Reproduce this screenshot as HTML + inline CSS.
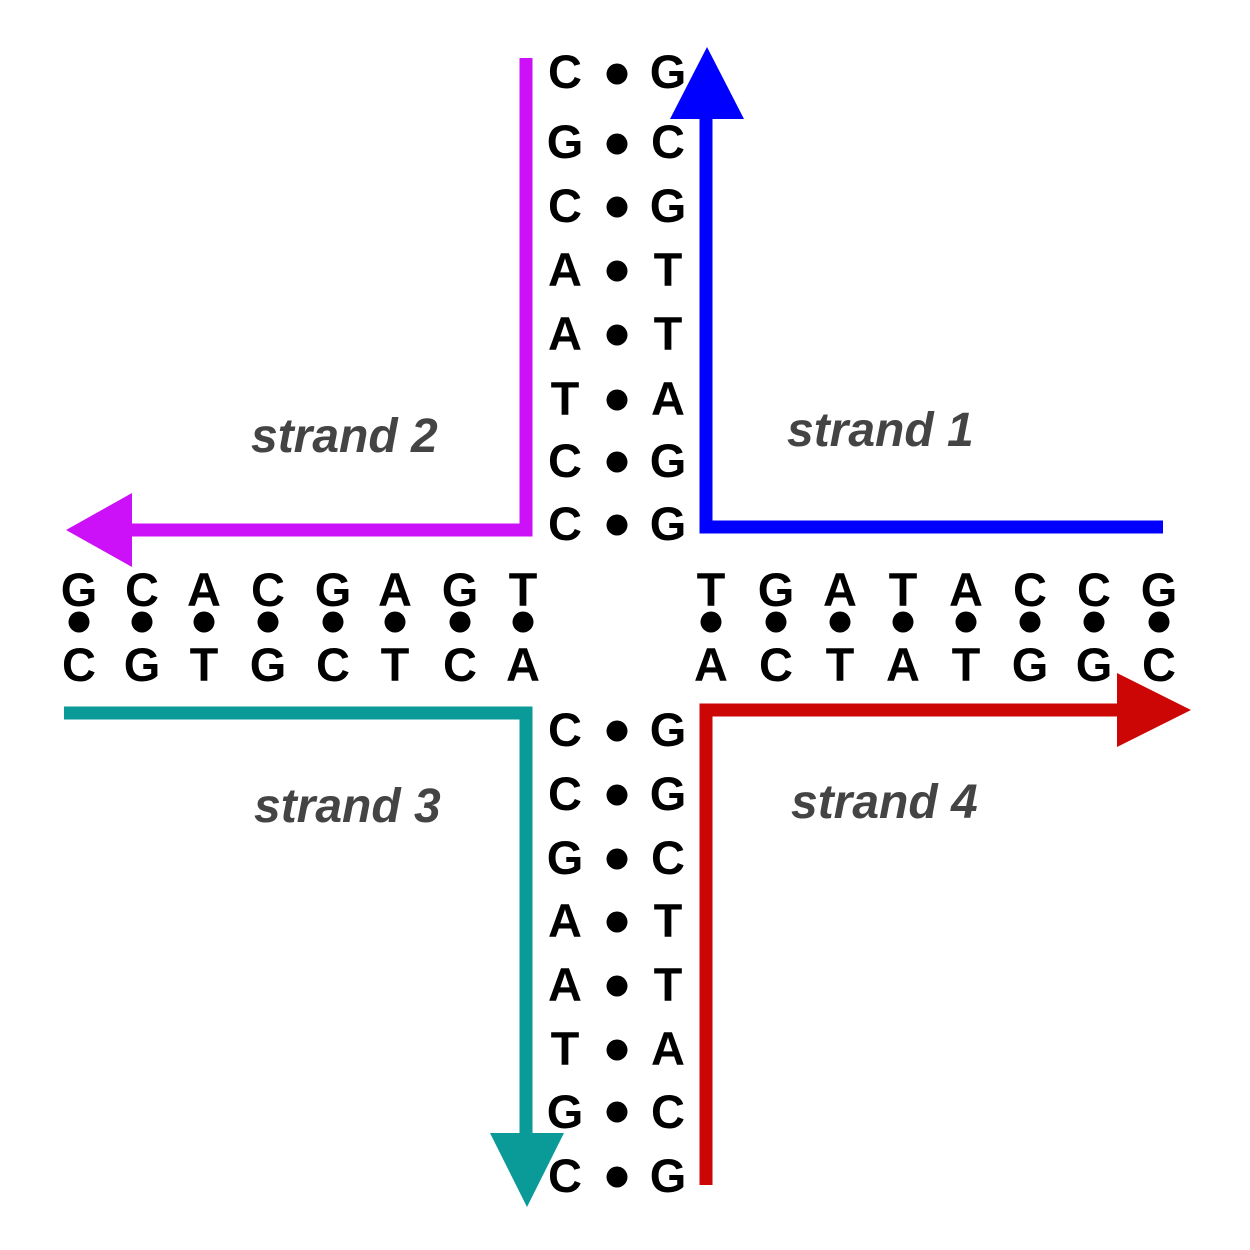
<!DOCTYPE html>
<html><head><meta charset="utf-8"><style>html,body{margin:0;padding:0;background:#fff}svg{display:block}</style></head>
<body>
<svg width="1250" height="1250" viewBox="0 0 1250 1250" xmlns="http://www.w3.org/2000/svg">
<rect width="1250" height="1250" fill="#fff"/>
<polyline points="526,58 526,530 128,530" fill="none" stroke="#cc10f8" stroke-width="13"/>
<polygon points="66,530 132,493 132,567" fill="#cc10f8"/>
<polyline points="1163,527 706,527 706,115" fill="none" stroke="#0000ff" stroke-width="13"/>
<polygon points="707,47 670,119 744,119" fill="#0000ff"/>
<polyline points="64,713 526,713 526,1136" fill="none" stroke="#0a9a98" stroke-width="13"/>
<polygon points="527,1207 490,1133 564,1133" fill="#0a9a98"/>
<polyline points="706,1185 706,710 1120,710" fill="none" stroke="#cc0505" stroke-width="13"/>
<polygon points="1191,710 1117,673 1117,747" fill="#cc0505"/>

<g font-family="Liberation Sans, Arial, sans-serif" font-weight="bold" font-size="47" fill="#000" text-anchor="middle">
<g>
<text x="565" y="88">C</text><text x="668" y="88">G</text>
<text x="565" y="158">G</text><text x="668" y="158">C</text>
<text x="565" y="222">C</text><text x="668" y="222">G</text>
<text x="565" y="286">A</text><text x="668" y="286">T</text>
<text x="565" y="350">A</text><text x="668" y="350">T</text>
<text x="565" y="415">T</text><text x="668" y="415">A</text>
<text x="565" y="477">C</text><text x="668" y="477">G</text>
<text x="565" y="540">C</text><text x="668" y="540">G</text>
</g>
<g>
<text x="565" y="746">C</text><text x="668" y="746">G</text>
<text x="565" y="810">C</text><text x="668" y="810">G</text>
<text x="565" y="874">G</text><text x="668" y="874">C</text>
<text x="565" y="937">A</text><text x="668" y="937">T</text>
<text x="565" y="1001">A</text><text x="668" y="1001">T</text>
<text x="565" y="1065">T</text><text x="668" y="1065">A</text>
<text x="565" y="1128">G</text><text x="668" y="1128">C</text>
<text x="565" y="1192">C</text><text x="668" y="1192">G</text>
</g>
<g>
<text x="79" y="606">G</text><text x="142" y="606">C</text><text x="204" y="606">A</text><text x="268" y="606">C</text>
<text x="333" y="606">G</text><text x="395" y="606">A</text><text x="460" y="606">G</text><text x="523" y="606">T</text>
<text x="79" y="681">C</text><text x="142" y="681">G</text><text x="204" y="681">T</text><text x="268" y="681">G</text>
<text x="333" y="681">C</text><text x="395" y="681">T</text><text x="460" y="681">C</text><text x="523" y="681">A</text>
</g>
<g>
<text x="711" y="606">T</text><text x="776" y="606">G</text><text x="840" y="606">A</text><text x="903" y="606">T</text>
<text x="966" y="606">A</text><text x="1030" y="606">C</text><text x="1094" y="606">C</text><text x="1159" y="606">G</text>
<text x="711" y="681">A</text><text x="776" y="681">C</text><text x="840" y="681">T</text><text x="903" y="681">A</text>
<text x="966" y="681">T</text><text x="1030" y="681">G</text><text x="1094" y="681">G</text><text x="1159" y="681">C</text>
</g>
</g>

<g fill="#000">
<circle cx="617" cy="74" r="10.5"/><circle cx="617" cy="144" r="10.5"/><circle cx="617" cy="207" r="10.5"/><circle cx="617" cy="271" r="10.5"/>
<circle cx="617" cy="335" r="10.5"/><circle cx="617" cy="400" r="10.5"/><circle cx="617" cy="462" r="10.5"/><circle cx="617" cy="525" r="10.5"/>
<circle cx="617" cy="731" r="10.5"/><circle cx="617" cy="795" r="10.5"/><circle cx="617" cy="859" r="10.5"/><circle cx="617" cy="922" r="10.5"/>
<circle cx="617" cy="986" r="10.5"/><circle cx="617" cy="1050" r="10.5"/><circle cx="617" cy="1112" r="10.5"/><circle cx="617" cy="1177" r="10.5"/>
<circle cx="79" cy="622" r="10.5"/><circle cx="142" cy="622" r="10.5"/><circle cx="204" cy="622" r="10.5"/><circle cx="268" cy="622" r="10.5"/>
<circle cx="333" cy="622" r="10.5"/><circle cx="395" cy="622" r="10.5"/><circle cx="460" cy="622" r="10.5"/><circle cx="523" cy="622" r="10.5"/>
<circle cx="711" cy="622" r="10.5"/><circle cx="776" cy="622" r="10.5"/><circle cx="840" cy="622" r="10.5"/><circle cx="903" cy="622" r="10.5"/>
<circle cx="966" cy="622" r="10.5"/><circle cx="1030" cy="622" r="10.5"/><circle cx="1094" cy="622" r="10.5"/><circle cx="1159" cy="622" r="10.5"/>
</g>

<g font-family="Liberation Sans, Arial, sans-serif" font-weight="bold" font-style="italic" font-size="48" fill="#444">
<text x="251" y="452">strand 2</text>
<text x="787" y="446">strand 1</text>
<text x="254" y="822">strand 3</text>
<text x="791" y="818">strand 4</text>
</g>
</svg>
</body></html>
